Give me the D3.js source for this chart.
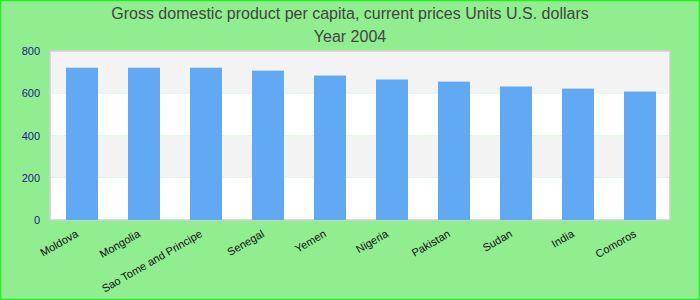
<!DOCTYPE html>
<html>
<head>
<meta charset="utf-8">
<script src="https://cdn.jsdelivr.net/npm/d3@7"></script>
<style>
  body { margin: 0; }
  svg { display: block; font-family: "Liberation Sans", Arial, sans-serif; }
</style>
</head>
<body>
<svg width="700" height="300"></svg>
<script>
const countries = ["Moldova", "Mongolia", "Sao Tome and Principe", "Senegal", "Yemen",
                   "Nigeria", "Pakistan", "Sudan", "India", "Comoros"];
const gdpValues = [721, 721, 721, 707, 684, 665, 655, 632, 622, 608];
const yTicks = [0, 200, 400, 600, 800];
const titleLines = ["Gross domestic product per capita, current prices Units U.S. dollars", "Year 2004"];

const svg = d3.select("svg");
const W = 700, H = 300;
const margin = {top: 51, right: 30, bottom: 80, left: 50};

svg.append("rect")
    .attr("x", 0.5).attr("y", 0.5)
    .attr("width", W - 1).attr("height", H - 1)
    .attr("fill", "#90ee90")
    .attr("stroke", "#22ee22")
    .attr("stroke-width", 1.5);

const x = d3.scaleBand()
    .domain(countries)
    .range([margin.left + 1, W - margin.right + 1])
    .paddingInner(0.484)
    .paddingOuter(0.242);

const y = d3.scaleLinear()
    .domain([0, 800])
    .range([H - margin.bottom, margin.top]);

// alternating bands
for (let i = 0; i < yTicks.length - 1; i++) {
    svg.append("rect")
        .attr("x", margin.left)
        .attr("y", y(yTicks[i + 1]))
        .attr("width", W - margin.right - margin.left)
        .attr("height", y(yTicks[i]) - y(yTicks[i + 1]))
        .attr("fill", i % 2 === 0 ? "#ffffff" : "#f3f3f3");
}

// plot border
svg.append("rect")
    .attr("x", margin.left)
    .attr("y", margin.top)
    .attr("width", W - margin.right - margin.left)
    .attr("height", H - margin.bottom - margin.top)
    .attr("fill", "none")
    .attr("stroke", "#d0d0d0")
    .attr("stroke-width", 1.5);

svg.selectAll(".bar")
    .data(countries)
    .enter().append("rect")
    .attr("class", "bar")
    .attr("x", d => x(d))
    .attr("width", x.bandwidth())
    .attr("y", (d, i) => y(gdpValues[i]))
    .attr("height", (d, i) => y(0) - y(gdpValues[i]))
    .attr("fill", "#62a9f4");

// y axis
const yAxis = svg.append("g")
    .attr("transform", `translate(${margin.left - 10},0)`)
    .call(d3.axisLeft(y).tickValues(yTicks).tickSize(0).tickPadding(0));
yAxis.select(".domain").remove();
yAxis.selectAll("text")
    .attr("fill", "#1a1a8c")
    .attr("font-size", "11px")
    .attr("font-family", "Liberation Sans, Arial, sans-serif");

// x axis
const xAxis = svg.append("g")
    .attr("transform", `translate(0,${H - margin.bottom})`)
    .call(d3.axisBottom(x).tickSize(0).tickPadding(0));
xAxis.select(".domain").remove();
xAxis.selectAll("text")
    .attr("fill", "#111")
    .attr("font-size", "11px")
    .attr("font-family", "Liberation Sans, Arial, sans-serif")
    .attr("text-anchor", "end")
    .attr("dy", null)
    .attr("y", null)
    .attr("transform", "translate(-3,16) rotate(-30)");

// title
svg.selectAll(".title")
    .data(titleLines)
    .enter().append("text")
    .attr("class", "title")
    .attr("x", W / 2)
    .attr("y", (d, i) => 19 + i * 22.5)
    .attr("text-anchor", "middle")
    .attr("font-size", "16px")
    .attr("fill", "#444")
    .text(d => d);
</script>
</body>
</html>
